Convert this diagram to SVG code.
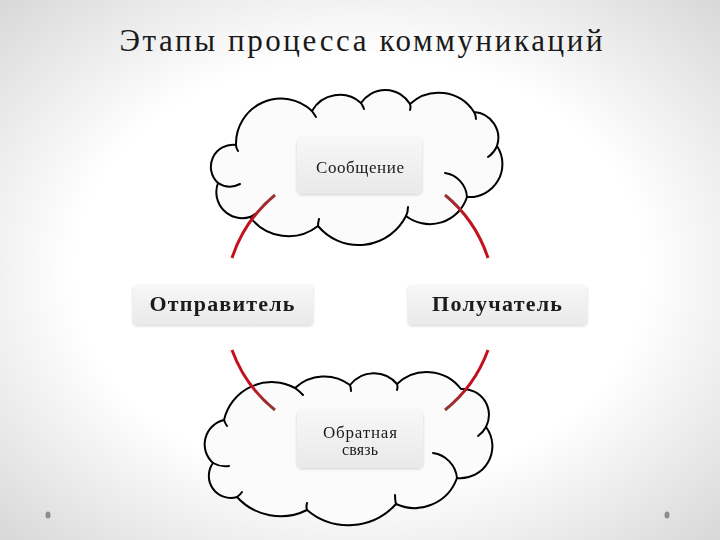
<svg xmlns="http://www.w3.org/2000/svg" width="720" height="540" viewBox="0 0 720 540">
<defs>
<radialGradient id="bg" cx="50%" cy="50%" r="72%">
<stop offset="0.55" stop-color="#ffffff"/>
<stop offset="1" stop-color="#d6d6d6"/>
</radialGradient>
<linearGradient id="box" x1="0" y1="0" x2="0" y2="1">
<stop offset="0" stop-color="#f7f7f7"/>
<stop offset="1" stop-color="#e9e9e9"/>
</linearGradient>
<filter id="sh" x="-10%" y="-20%" width="120%" height="140%">
<feGaussianBlur in="SourceAlpha" stdDeviation="1.5"/>
<feOffset dx="0" dy="1" result="b"/>
<feComponentTransfer><feFuncA type="linear" slope="0.18"/></feComponentTransfer>
<feMerge><feMergeNode/><feMergeNode in="SourceGraphic"/></feMerge>
</filter>
<linearGradient id="r1" gradientUnits="userSpaceOnUse" x1="275" y1="195" x2="232" y2="258"><stop offset="0" stop-color="#8e3a36"/><stop offset="0.45" stop-color="#c2121e"/><stop offset="1" stop-color="#c2121e"/></linearGradient>
<linearGradient id="r2" gradientUnits="userSpaceOnUse" x1="445" y1="195" x2="488" y2="258"><stop offset="0" stop-color="#8e3a36"/><stop offset="0.45" stop-color="#c2121e"/><stop offset="1" stop-color="#c2121e"/></linearGradient>
<linearGradient id="r3" gradientUnits="userSpaceOnUse" x1="275" y1="410" x2="232" y2="350"><stop offset="0" stop-color="#8e3a36"/><stop offset="0.45" stop-color="#c2121e"/><stop offset="1" stop-color="#c2121e"/></linearGradient>
<linearGradient id="r4" gradientUnits="userSpaceOnUse" x1="445" y1="410" x2="488" y2="350"><stop offset="0" stop-color="#8e3a36"/><stop offset="0.45" stop-color="#c2121e"/><stop offset="1" stop-color="#c2121e"/></linearGradient>
</defs>
<style>
.cloud{fill:#fbfbfb;stroke:#000;stroke-width:2;stroke-linejoin:round}
.hook{fill:none;stroke:#000;stroke-width:2;stroke-linecap:round}
.bx{fill:url(#box)}
.t{font-family:"Liberation Serif","DejaVu Serif",serif;fill:#1a1a1a;text-anchor:middle}
.b{font-weight:bold;font-size:22px}
.s{font-size:17px}
.arc{fill:none;stroke-width:3;stroke-linecap:butt}
.dot{fill:#8c8c8c}
</style>
<rect width="720" height="540" fill="url(#bg)"/>
<text class="t" x="361" y="51" font-size="31" textLength="483" lengthAdjust="spacing">Этапы процесса коммуникаций</text>
<ellipse class="dot" cx="48" cy="515" rx="2.5" ry="3.5"/>
<ellipse class="dot" cx="667" cy="515" rx="2.5" ry="3.5"/>

<g id="cloud-top">
<path class="cloud" d="M236,145 A45,45 0 0 1 312,111 A32,32 0 0 1 361,103 A29,29 0 0 1 410,104 A42,42 0 0 1 474,112 A26,26 0 0 1 497,146 A33,33 0 0 1 467,197 A39,39 0 0 1 406,216 A53,53 0 0 1 318,226 A48,48 0 0 1 250,217 A26,26 0 0 1 218,183 A22,22 0 0 1 236,145 Z"/>
<path class="hook" d="M240,184 A22,22 0 0 1 218,183 M497,146 A26,26 0 0 1 488,157 M445,173 A26,26 0 0 1 467,197 M406,216 Q408,212 408,207 M318,226 Q318,223 319,219 M312,111 Q314,114 316,117 M361,103 Q363,106 364,109 M410,104 Q411,107 410,110 M474,112 Q476,115 476,119 M250,217 Q253,216 255,214 M236,145 Q236,148 238,151"/>
</g>
<g id="cloud-bottom">
<path class="cloud" d="M224,420 A49,49 0 0 1 295,388 A43,43 0 0 1 350,385 A30,30 0 0 1 397,384 A43,43 0 0 1 461,389 A26,26 0 0 1 486,427 A32,32 0 0 1 457,478 A45,45 0 0 1 396,504 A64,64 0 0 1 307,510 A59,59 0 0 1 237,497 A22,22 0 0 1 213,463 A25,25 0 0 1 224,420 Z"/>
<path class="hook" d="M295,388 A49,49 0 0 1 303,395 M486,427 A26,26 0 0 1 478,436 M433,453 A28,28 0 0 1 457,478 M229,466 A25,25 0 0 1 213,463 M396,504 Q395,500 395,495 M307,510 Q306,507 307,503 M224,420 Q225,423 227,426 M237,497 Q240,495 242,492 M350,385 Q351,388 351,391 M397,384 Q398,387 397,390"/>
</g>

<g id="connectors">
<path class="arc" stroke="url(#r1)" d="M275,195 A137,137 0 0 0 232,258"/>
<path class="arc" stroke="url(#r2)" d="M445,195 A137,137 0 0 1 488,258"/>
<path class="arc" stroke="url(#r3)" d="M232,350 A137,137 0 0 0 275,410"/>
<path class="arc" stroke="url(#r4)" d="M488,350 A137,137 0 0 1 445,410"/>
</g>

<g id="node-message" filter="url(#sh)">
<rect class="bx" x="297" y="137" width="125" height="57" rx="5"/>
<text class="t s" x="360" y="173" textLength="88" lengthAdjust="spacing">Сообщение</text>
</g>
<g id="node-sender" filter="url(#sh)">
<rect class="bx" x="133" y="285" width="180" height="40" rx="4"/>
<text class="t b" x="222" y="311" textLength="145" lengthAdjust="spacing">Отправитель</text>
</g>
<g id="node-receiver" filter="url(#sh)">
<rect class="bx" x="408" y="285" width="179" height="40" rx="4"/>
<text class="t b" x="497" y="311" textLength="130" lengthAdjust="spacing">Получатель</text>
</g>
<g id="node-feedback" filter="url(#sh)">
<rect class="bx" x="297" y="410" width="126" height="58" rx="5"/>
<text class="t s" x="360" y="438" textLength="74" lengthAdjust="spacing">Обратная</text>
<text class="t" x="360" y="455" font-size="16" textLength="36" lengthAdjust="spacing">связь</text>
</g>
</svg>
